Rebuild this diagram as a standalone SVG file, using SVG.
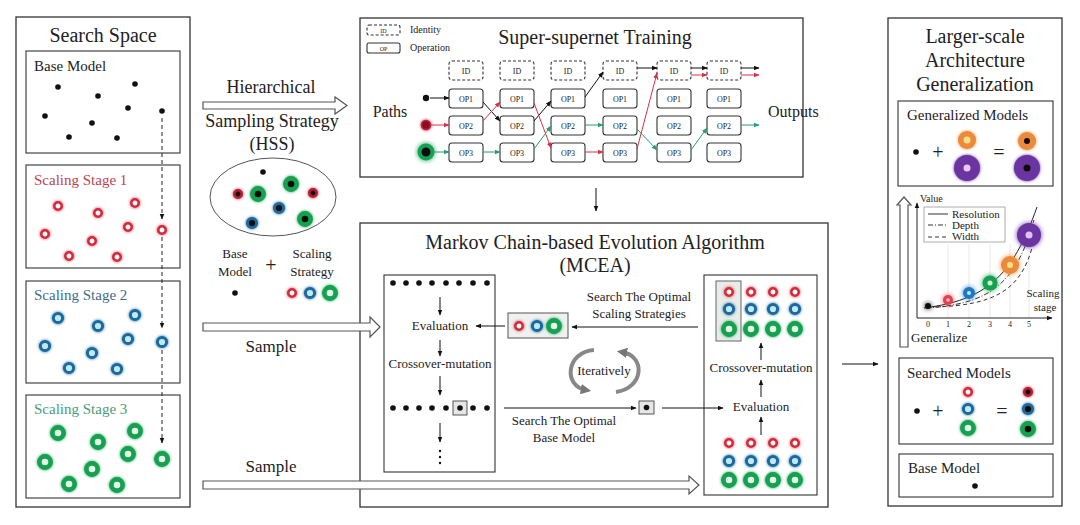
<svg xmlns="http://www.w3.org/2000/svg" xmlns:xlink="http://www.w3.org/1999/xlink" width="1080" height="525" viewBox="0 0 1080 525">
<style>
.s{font-family:"Liberation Serif","Times New Roman",serif;fill:#222}
.box{fill:none;stroke:#333;stroke-width:1.3}
.ibox{fill:none;stroke:#333;stroke-width:1.1}
.op{fill:#fff;stroke:#333;stroke-width:1.1}
.id{fill:#fff;stroke:#333;stroke-width:1.1;stroke-dasharray:3 2}
.hol{fill:#fff;stroke:#555;stroke-width:1.2}
.lk{stroke:#111;stroke-width:1;fill:none}
.lr{stroke:#d8304a;stroke-width:1;fill:none}
.lg{stroke:#2a9a78;stroke-width:1;fill:none}
.t8{font-size:8px}
</style>
<defs>
<filter id="glow" x="-80%" y="-80%" width="260%" height="260%"><feGaussianBlur in="SourceGraphic" stdDeviation="1.4" result="b"/><feMerge><feMergeNode in="b"/><feMergeNode in="SourceGraphic"/></feMerge></filter>
<filter id="glow2" x="-80%" y="-80%" width="260%" height="260%"><feGaussianBlur in="SourceGraphic" stdDeviation="2.5" result="b"/><feMerge><feMergeNode in="b"/><feMergeNode in="SourceGraphic"/></feMerge></filter>
<marker id="ab" viewBox="0 0 10 10" refX="9" refY="5" markerWidth="6" markerHeight="6" orient="auto"><path d="M0,1 L10,5 L0,9 z" fill="#111"/></marker>
<marker id="ar" viewBox="0 0 10 10" refX="9" refY="5" markerWidth="6" markerHeight="6" orient="auto"><path d="M0,1 L10,5 L0,9 z" fill="#d8304a"/></marker>
<marker id="ag" viewBox="0 0 10 10" refX="9" refY="5" markerWidth="6" markerHeight="6" orient="auto"><path d="M0,1 L10,5 L0,9 z" fill="#2a9a78"/></marker>
<marker id="agr" viewBox="0 0 10 10" refX="5" refY="5" markerWidth="2.6" markerHeight="2.6" orient="auto"><path d="M0,0 L10,5 L0,10 z" fill="#777"/></marker>
<g id="dot"><circle r="2.8" fill="#111"/></g>
<g id="rR" filter="url(#glow)"><circle r="3.7" fill="#fff" stroke="#d42a3c" stroke-width="2.6"/></g>
<g id="rB" filter="url(#glow)"><circle r="4.6" fill="#bfe9f7" stroke="#1e6a9c" stroke-width="3"/></g>
<g id="rG" filter="url(#glow)"><circle r="5.6" fill="#e2f7e8" stroke="#13a04f" stroke-width="4.6"/></g>
<g id="fR" filter="url(#glow)"><circle r="3.7" fill="#111" stroke="#b81c34" stroke-width="2.6"/></g>
<g id="fB" filter="url(#glow)"><circle r="4.6" fill="#111" stroke="#1e6a9c" stroke-width="3"/></g>
<g id="fG" filter="url(#glow)"><circle r="5.6" fill="#111" stroke="#13a04f" stroke-width="4.6"/></g>
</defs>
<rect width="1080" height="525" fill="#fff"/>

<!-- Search Space -->
<g id="search-space">
<rect class="box" x="16" y="17" width="174" height="490"/>
<text class="s" x="103" y="42" font-size="20" text-anchor="middle">Search Space</text>
<rect class="ibox" x="26" y="51" width="154" height="102"/>
<text class="s" x="34" y="71" font-size="15">Base Model</text>
<use href="#dot" x="58" y="87"/><use href="#dot" x="135" y="84"/><use href="#dot" x="98" y="96"/><use href="#dot" x="128" y="108"/><use href="#dot" x="162" y="111"/><use href="#dot" x="45" y="116"/><use href="#dot" x="92" y="123"/><use href="#dot" x="69" y="137"/><use href="#dot" x="117" y="138"/>
<rect class="ibox" x="26" y="165" width="154" height="103"/>
<text class="s" x="34" y="185" font-size="15" style="fill:#bf4250">Scaling Stage 1</text>
<use href="#rR" x="58" y="206"/><use href="#rR" x="135" y="203"/><use href="#rR" x="98" y="213"/><use href="#rR" x="128" y="227"/><use href="#rR" x="162" y="230"/><use href="#rR" x="45" y="234"/><use href="#rR" x="92" y="241"/><use href="#rR" x="69" y="256"/><use href="#rR" x="117" y="257"/>
<rect class="ibox" x="26" y="281" width="154" height="102"/>
<text class="s" x="34" y="300" font-size="15" style="fill:#3f6b8a">Scaling Stage 2</text>
<use href="#rB" x="58" y="318"/><use href="#rB" x="135" y="315"/><use href="#rB" x="98" y="326"/><use href="#rB" x="128" y="339"/><use href="#rB" x="162" y="342"/><use href="#rB" x="45" y="346"/><use href="#rB" x="92" y="353"/><use href="#rB" x="69" y="368"/><use href="#rB" x="117" y="369"/>
<rect class="ibox" x="26" y="395" width="154" height="103"/>
<text class="s" x="34" y="414" font-size="15" style="fill:#4a9c78">Scaling Stage 3</text>
<use href="#rG" x="58" y="433"/><use href="#rG" x="135" y="431"/><use href="#rG" x="98" y="442"/><use href="#rG" x="128" y="454"/><use href="#rG" x="162" y="459"/><use href="#rG" x="45" y="462"/><use href="#rG" x="92" y="469"/><use href="#rG" x="69" y="484"/><use href="#rG" x="117" y="485"/>
</g>

<!-- HSS -->
<g id="hss">
<text class="s" x="271" y="93" font-size="18" text-anchor="middle">Hierarchical</text>
<text class="s" x="272" y="127" font-size="18" text-anchor="middle">Sampling Strategy</text>
<text class="s" x="272" y="150" font-size="18" text-anchor="middle">(HSS)</text>
<ellipse cx="273" cy="197" rx="63" ry="39" fill="none" stroke="#555" stroke-width="1"/>
<use href="#dot" x="263" y="172"/>
<use href="#fR" x="238" y="194"/><use href="#fR" x="313" y="193"/>
<use href="#fG" x="258" y="194"/><use href="#fG" x="291" y="184"/><use href="#fG" x="305" y="219"/>
<use href="#fB" x="279" y="208"/><use href="#fB" x="252" y="223"/>
<text class="s" x="235" y="258" font-size="13" text-anchor="middle">Base</text>
<text class="s" x="235" y="276" font-size="13" text-anchor="middle">Model</text>
<text class="s" x="271" y="272" font-size="20" text-anchor="middle">+</text>
<text class="s" x="312" y="258" font-size="13" text-anchor="middle">Scaling</text>
<text class="s" x="312" y="276" font-size="13" text-anchor="middle">Strategy</text>
<use href="#dot" x="235" y="293"/>
<use href="#rR" x="292" y="293"/><use href="#rB" x="310" y="293"/><use href="#rG" x="330" y="293"/>
</g>

<!-- Super-supernet Training -->
<g id="super-supernet">
<rect class="box" x="360" y="18" width="443" height="159"/>
<text class="s" x="595" y="44" font-size="20" text-anchor="middle">Super-supernet Training</text>
<rect class="id" x="367" y="25" width="33" height="10" rx="2"/>
<text class="s" x="383.5" y="32.5" font-size="6" text-anchor="middle">ID</text>
<text class="s" x="410" y="33" font-size="10">Identity</text>
<rect class="op" x="367" y="43" width="33" height="10" rx="2"/>
<text class="s" x="383.5" y="50.5" font-size="6" text-anchor="middle">OP</text>
<text class="s" x="410" y="51" font-size="10">Operation</text>
<text class="s" x="390" y="117" font-size="16" text-anchor="middle">Paths</text>
<text class="s" x="768" y="117" font-size="16">Outputs</text>
<g id="col1"><rect class="id" x="449" y="61" width="34" height="19" rx="3"/><rect class="op" x="449" y="89" width="34" height="19" rx="3"/><rect class="op" x="449" y="116" width="34" height="19" rx="3"/><rect class="op" x="449" y="143" width="34" height="19" rx="3"/>
<text class="s t8" x="466" y="73.5" text-anchor="middle">ID</text><text class="s t8" x="466" y="101.5" text-anchor="middle">OP1</text><text class="s t8" x="466" y="128.5" text-anchor="middle">OP2</text><text class="s t8" x="466" y="155.5" text-anchor="middle">OP3</text></g>
<g id="col2"><rect class="id" x="500" y="61" width="34" height="19" rx="3"/><rect class="op" x="500" y="89" width="34" height="19" rx="3"/><rect class="op" x="500" y="116" width="34" height="19" rx="3"/><rect class="op" x="500" y="143" width="34" height="19" rx="3"/>
<text class="s t8" x="517" y="73.5" text-anchor="middle">ID</text><text class="s t8" x="517" y="101.5" text-anchor="middle">OP1</text><text class="s t8" x="517" y="128.5" text-anchor="middle">OP2</text><text class="s t8" x="517" y="155.5" text-anchor="middle">OP3</text></g>
<g id="col3"><rect class="id" x="551" y="61" width="34" height="19" rx="3"/><rect class="op" x="551" y="89" width="34" height="19" rx="3"/><rect class="op" x="551" y="116" width="34" height="19" rx="3"/><rect class="op" x="551" y="143" width="34" height="19" rx="3"/>
<text class="s t8" x="568" y="73.5" text-anchor="middle">ID</text><text class="s t8" x="568" y="101.5" text-anchor="middle">OP1</text><text class="s t8" x="568" y="128.5" text-anchor="middle">OP2</text><text class="s t8" x="568" y="155.5" text-anchor="middle">OP3</text></g>
<g id="col4"><rect class="id" x="603" y="61" width="34" height="19" rx="3"/><rect class="op" x="603" y="89" width="34" height="19" rx="3"/><rect class="op" x="603" y="116" width="34" height="19" rx="3"/><rect class="op" x="603" y="143" width="34" height="19" rx="3"/>
<text class="s t8" x="620" y="73.5" text-anchor="middle">ID</text><text class="s t8" x="620" y="101.5" text-anchor="middle">OP1</text><text class="s t8" x="620" y="128.5" text-anchor="middle">OP2</text><text class="s t8" x="620" y="155.5" text-anchor="middle">OP3</text></g>
<g id="col5"><rect class="id" x="657" y="61" width="34" height="19" rx="3"/><rect class="op" x="657" y="89" width="34" height="19" rx="3"/><rect class="op" x="657" y="116" width="34" height="19" rx="3"/><rect class="op" x="657" y="143" width="34" height="19" rx="3"/>
<text class="s t8" x="674" y="73.5" text-anchor="middle">ID</text><text class="s t8" x="674" y="101.5" text-anchor="middle">OP1</text><text class="s t8" x="674" y="128.5" text-anchor="middle">OP2</text><text class="s t8" x="674" y="155.5" text-anchor="middle">OP3</text></g>
<g id="col6"><rect class="id" x="707" y="61" width="34" height="19" rx="3"/><rect class="op" x="707" y="89" width="34" height="19" rx="3"/><rect class="op" x="707" y="116" width="34" height="19" rx="3"/><rect class="op" x="707" y="143" width="34" height="19" rx="3"/>
<text class="s t8" x="724" y="73.5" text-anchor="middle">ID</text><text class="s t8" x="724" y="101.5" text-anchor="middle">OP1</text><text class="s t8" x="724" y="128.5" text-anchor="middle">OP2</text><text class="s t8" x="724" y="155.5" text-anchor="middle">OP3</text></g>
<circle cx="426" cy="98" r="3.2" fill="#111"/>
<circle cx="426" cy="125" r="4.5" fill="#8a1020" stroke="#c0203a" stroke-width="1.5" filter="url(#glow)"/>
<circle cx="426" cy="152" r="6.5" fill="#111" stroke="#18a055" stroke-width="4" filter="url(#glow2)"/>
</g>

<!-- MCEA -->
<g id="mcea">
<rect class="box" x="360" y="223" width="468" height="284"/>
<text class="s" x="595" y="249" font-size="20" text-anchor="middle">Markov Chain-based Evolution Algorithm</text>
<text class="s" x="595" y="272" font-size="20" text-anchor="middle">(MCEA)</text>
<g id="mcea-base-box">
<rect class="ibox" x="384" y="275" width="111" height="197"/>
<use href="#dot" x="393" y="283"/><use href="#dot" x="406" y="283"/><use href="#dot" x="419" y="283"/><use href="#dot" x="432" y="283"/><use href="#dot" x="446" y="283"/><use href="#dot" x="459" y="283"/><use href="#dot" x="473" y="283"/><use href="#dot" x="487" y="283"/>
<text class="s" x="440" y="330" font-size="13" text-anchor="middle">Evaluation</text>
<text class="s" x="440" y="368" font-size="13" text-anchor="middle">Crossover-mutation</text>
<rect x="453" y="401" width="14" height="14" fill="#e6e6e6" stroke="#555" stroke-width="1"/>
<use href="#dot" x="393" y="408"/><use href="#dot" x="406" y="408"/><use href="#dot" x="419" y="408"/><use href="#dot" x="432" y="408"/><use href="#dot" x="446" y="408"/><use href="#dot" x="460" y="408"/><use href="#dot" x="473" y="408"/><use href="#dot" x="487" y="408"/>
<circle cx="440" cy="451" r="1.2" fill="#111"/><circle cx="440" cy="457" r="1.2" fill="#111"/><circle cx="440" cy="463" r="1.2" fill="#111"/>
</g>
<g id="mcea-strategy-box">
<rect x="508" y="313" width="60" height="25" fill="#eef1ee" stroke="#555" stroke-width="1"/>
<use href="#rR" x="519" y="326"/><use href="#rB" x="537" y="326"/><use href="#rG" x="554" y="326"/>
</g>
<text class="s" x="639" y="301" font-size="13" text-anchor="middle">Search The Optimal</text>
<text class="s" x="639" y="318" font-size="13" text-anchor="middle">Scaling Strategies</text>
<text class="s" x="604" y="375" font-size="13" text-anchor="middle">Iteratively</text>
<path d="M594,350 C566,352 563,386 586,390" fill="none" stroke="#888" stroke-width="4" marker-end="url(#agr)"/>
<path d="M616,392 C644,388 646,356 622,352" fill="none" stroke="#888" stroke-width="4" marker-end="url(#agr)"/>
<text class="s" x="564" y="425" font-size="13" text-anchor="middle">Search The Optimal</text>
<text class="s" x="564" y="442" font-size="13" text-anchor="middle">Base Model</text>
<g id="mcea-best-base">
<rect x="639" y="401" width="15" height="13" fill="#e6e6e6" stroke="#555" stroke-width="1"/>
<use href="#dot" x="646.5" y="407.5"/>
</g>
<g id="mcea-strategy-pop">
<rect class="ibox" x="704" y="275" width="113" height="220"/>
<rect x="716" y="281" width="25" height="60" fill="#e8ece8" stroke="#666" stroke-width="1"/>
<use href="#rR" x="729" y="292"/><use href="#rR" x="751" y="292"/><use href="#rR" x="773" y="292"/><use href="#rR" x="795" y="292"/>
<use href="#rB" x="729" y="309"/><use href="#rB" x="751" y="309"/><use href="#rB" x="773" y="309"/><use href="#rB" x="795" y="309"/>
<use href="#rG" x="729" y="329"/><use href="#rG" x="751" y="329"/><use href="#rG" x="773" y="329"/><use href="#rG" x="795" y="329"/>
<text class="s" x="761" y="372" font-size="13" text-anchor="middle">Crossover-mutation</text>
<text class="s" x="761" y="411" font-size="13" text-anchor="middle">Evaluation</text>
<use href="#rR" x="729" y="443"/><use href="#rR" x="751" y="443"/><use href="#rR" x="773" y="443"/><use href="#rR" x="795" y="443"/>
<use href="#rB" x="729" y="461"/><use href="#rB" x="751" y="461"/><use href="#rB" x="773" y="461"/><use href="#rB" x="795" y="461"/>
<use href="#rG" x="729" y="480"/><use href="#rG" x="751" y="480"/><use href="#rG" x="773" y="480"/><use href="#rG" x="795" y="480"/>
</g>
</g>

<!-- Generalization panel -->
<g id="generalization">
<rect class="box" x="888" y="18" width="174" height="488"/>
<text class="s" x="975" y="43" font-size="20" text-anchor="middle">Larger-scale</text>
<text class="s" x="975" y="67" font-size="20" text-anchor="middle">Architecture</text>
<text class="s" x="975" y="91" font-size="20" text-anchor="middle">Generalization</text>
<g id="generalized-models">
<rect class="ibox" x="898" y="101" width="155" height="85"/>
<text class="s" x="907" y="120" font-size="15">Generalized Models</text>
<use href="#dot" x="916" y="152"/>
<text class="s" x="938" y="159" font-size="20" text-anchor="middle">+</text>
<g filter="url(#glow)"><circle cx="967" cy="140" r="9" fill="#ec8a3a"/><circle cx="967" cy="140" r="3.5" fill="#f7e08a"/>
<circle cx="967" cy="168" r="13" fill="#6b35a0"/><circle cx="967" cy="168" r="3.5" fill="#e8c8ff"/></g>
<text class="s" x="999" y="159" font-size="20" text-anchor="middle">=</text>
<g filter="url(#glow)"><circle cx="1027" cy="141" r="9" fill="#ec8a3a"/><circle cx="1027" cy="141" r="3" fill="#111"/>
<circle cx="1027" cy="168" r="13" fill="#6b35a0"/><circle cx="1027" cy="168" r="3.5" fill="#111"/></g>
</g>
<g id="chart">
<path class="hol" d="M900,347 V205 H897 L904,197 L911,205 H908 V347 Z"/>
<g stroke="#e2e2e2" stroke-width="0.8"><line x1="948" y1="244" x2="948" y2="318"/><line x1="969" y1="244" x2="969" y2="318"/><line x1="990" y1="244" x2="990" y2="318"/><line x1="1010" y1="244" x2="1010" y2="318"/><line x1="1029" y1="244" x2="1029" y2="318"/></g>
<line x1="917" y1="318" x2="917" y2="203" stroke="#222" stroke-width="1" marker-end="url(#ab)"/>
<line x1="917" y1="318" x2="1052" y2="318" stroke="#222" stroke-width="1" marker-end="url(#ab)"/>
<text class="s" x="920" y="202" font-size="10">Value</text>
<rect x="924" y="207" width="81" height="35" fill="#fff" stroke="#999" stroke-width="0.8"/>
<line x1="928" y1="214" x2="948" y2="214" stroke="#333" stroke-width="1"/>
<line x1="928" y1="225" x2="948" y2="225" stroke="#333" stroke-width="1" stroke-dasharray="5 2 1 2"/>
<line x1="928" y1="237" x2="948" y2="237" stroke="#333" stroke-width="1" stroke-dasharray="4 3"/>
<text class="s" x="952" y="218" font-size="11">Resolution</text>
<text class="s" x="952" y="229" font-size="11">Depth</text>
<text class="s" x="952" y="240" font-size="11">Width</text>
<path d="M924,308 C985,300 1012,278 1037,207" fill="none" stroke="#222" stroke-width="1"/>
<path d="M926,308 C990,304 1016,284 1034,220" fill="none" stroke="#333" stroke-width="1" stroke-dasharray="5 2 1 2"/>
<path d="M935,307 C995,305 1020,290 1032,248" fill="none" stroke="#333" stroke-width="1" stroke-dasharray="4 3"/>
<g filter="url(#glow2)">
<circle cx="928" cy="306" r="3" fill="#111"/>
<circle cx="948" cy="300" r="5" fill="#e04050"/><circle cx="948" cy="300" r="1.8" fill="#f8c0c8"/>
<circle cx="969" cy="293" r="6" fill="#1f78c0"/><circle cx="969" cy="293" r="2" fill="#c0e8ff"/>
<circle cx="990" cy="283" r="7.5" fill="#18a050"/><circle cx="990" cy="283" r="2.5" fill="#c8f5d8"/>
<circle cx="1010" cy="265" r="9" fill="#ec8a3a"/><circle cx="1010" cy="265" r="3" fill="#f7e08a"/>
<circle cx="1029" cy="235" r="12" fill="#6b35a0"/><circle cx="1029" cy="235" r="3.5" fill="#e0c0ff"/>
</g>
<g class="s" font-size="8" text-anchor="middle"><text x="928" y="327">0</text><text x="948" y="327">1</text><text x="969" y="327">2</text><text x="990" y="327">3</text><text x="1010" y="327">4</text><text x="1029" y="327">5</text></g>
<text class="s" x="1043" y="297" font-size="11" text-anchor="middle">Scaling</text>
<text class="s" x="1045" y="311" font-size="11" text-anchor="middle">stage</text>
<text class="s" x="911" y="342" font-size="13">Generalize</text>
</g>
<g id="searched-models">
<rect class="ibox" x="899" y="358" width="154" height="86"/>
<text class="s" x="907" y="378" font-size="15">Searched Models</text>
<use href="#dot" x="917" y="411"/>
<text class="s" x="938" y="418" font-size="20" text-anchor="middle">+</text>
<use href="#rR" x="968" y="392"/><use href="#rB" x="968" y="409"/><use href="#rG" x="968" y="428"/>
<text class="s" x="1002" y="418" font-size="20" text-anchor="middle">=</text>
<use href="#fR" x="1028" y="392"/><use href="#fB" x="1028" y="409"/><use href="#fG" x="1028" y="429"/>
</g>
<g id="base-model-out">
<rect class="ibox" x="899" y="454" width="154" height="43"/>
<text class="s" x="908" y="473" font-size="15">Base Model</text>
<use href="#dot" x="975" y="486"/>
</g>
</g>

<!-- Connectors -->
<g id="connectors">
<line x1="162" y1="118" x2="162" y2="219" stroke="#222" stroke-width="1" stroke-dasharray="4 3" marker-end="url(#ab)"/>
<line x1="162" y1="237" x2="162" y2="328" stroke="#222" stroke-width="1" stroke-dasharray="4 3" marker-end="url(#ab)"/>
<line x1="162" y1="350" x2="162" y2="443" stroke="#222" stroke-width="1" stroke-dasharray="4 3" marker-end="url(#ab)"/>
<path class="hol" d="M203,102 H335 V97 L347,105.5 L335,114 V109 H203 Z"/>
<path class="hol" d="M203,323 H370 V317 L380,327 L370,337 V331 H203 Z"/>
<text class="s" x="271" y="352" font-size="17" text-anchor="middle">Sample</text>
<path class="hol" d="M203,481 H689 V476 L699,485 L689,494 V489 H203 Z"/>
<text class="s" x="271" y="472" font-size="17" text-anchor="middle">Sample</text>
<!-- super-supernet paths -->
<line class="lk" x1="430" y1="98" x2="449" y2="98" marker-end="url(#ab)"/>
<line class="lk" x1="483" y1="102" x2="500" y2="121" marker-end="url(#ab)"/>
<line class="lk" x1="534" y1="121" x2="551" y2="101" marker-end="url(#ab)"/>
<line class="lk" x1="585" y1="97" x2="603" y2="72" marker-end="url(#ab)"/>
<line class="lk" x1="637" y1="68" x2="657" y2="68" marker-end="url(#ab)"/>
<line class="lk" x1="691" y1="68" x2="707" y2="68" marker-end="url(#ab)"/>
<line class="lk" x1="741" y1="68" x2="759" y2="68" marker-end="url(#ab)"/>
<line class="lr" x1="431" y1="125" x2="449" y2="125" marker-end="url(#ar)"/>
<line class="lr" x1="483" y1="121" x2="500" y2="102" marker-end="url(#ar)"/>
<line class="lr" x1="534" y1="103" x2="551" y2="148" marker-end="url(#ar)"/>
<line class="lr" x1="585" y1="152" x2="603" y2="152" marker-end="url(#ar)"/>
<line class="lr" x1="637" y1="149" x2="657" y2="73" marker-end="url(#ar)"/>
<line class="lr" x1="691" y1="75" x2="707" y2="75" marker-end="url(#ar)"/>
<line class="lr" x1="741" y1="75" x2="759" y2="75" marker-end="url(#ar)"/>
<line class="lg" x1="433" y1="152" x2="449" y2="152" marker-end="url(#ag)"/>
<line class="lg" x1="483" y1="152" x2="500" y2="152" marker-end="url(#ag)"/>
<line class="lg" x1="534" y1="149" x2="551" y2="126" marker-end="url(#ag)"/>
<line class="lg" x1="585" y1="125" x2="603" y2="125" marker-end="url(#ag)"/>
<line class="lg" x1="637" y1="129" x2="657" y2="150" marker-end="url(#ag)"/>
<line class="lg" x1="691" y1="150" x2="707" y2="128" marker-end="url(#ag)"/>
<line class="lg" x1="741" y1="125" x2="759" y2="125" marker-end="url(#ag)"/>
<!-- panel links -->
<line class="lk" x1="596" y1="188" x2="596" y2="211" marker-end="url(#ab)"/>
<line class="lk" x1="440" y1="297" x2="440" y2="315" marker-end="url(#ab)"/>
<line class="lk" x1="440" y1="340" x2="440" y2="356" marker-end="url(#ab)"/>
<line class="lk" x1="440" y1="376" x2="440" y2="395" marker-end="url(#ab)"/>
<line class="lk" x1="440" y1="423" x2="440" y2="442" marker-end="url(#ab)"/>
<line class="lk" x1="505" y1="326" x2="476" y2="326" marker-end="url(#ab)"/>
<line class="lk" x1="698" y1="327" x2="572" y2="327" marker-end="url(#ab)"/>
<line class="lk" x1="504" y1="408" x2="636" y2="408" marker-end="url(#ab)"/>
<line class="lk" x1="662" y1="408" x2="723" y2="408" marker-end="url(#ab)"/>
<line class="lk" x1="761" y1="435" x2="761" y2="417" marker-end="url(#ab)"/>
<line class="lk" x1="761" y1="397" x2="761" y2="380" marker-end="url(#ab)"/>
<line class="lk" x1="761" y1="360" x2="761" y2="343" marker-end="url(#ab)"/>
<line class="lk" x1="842" y1="364" x2="878" y2="364" marker-end="url(#ab)"/>
</g>
</svg>
